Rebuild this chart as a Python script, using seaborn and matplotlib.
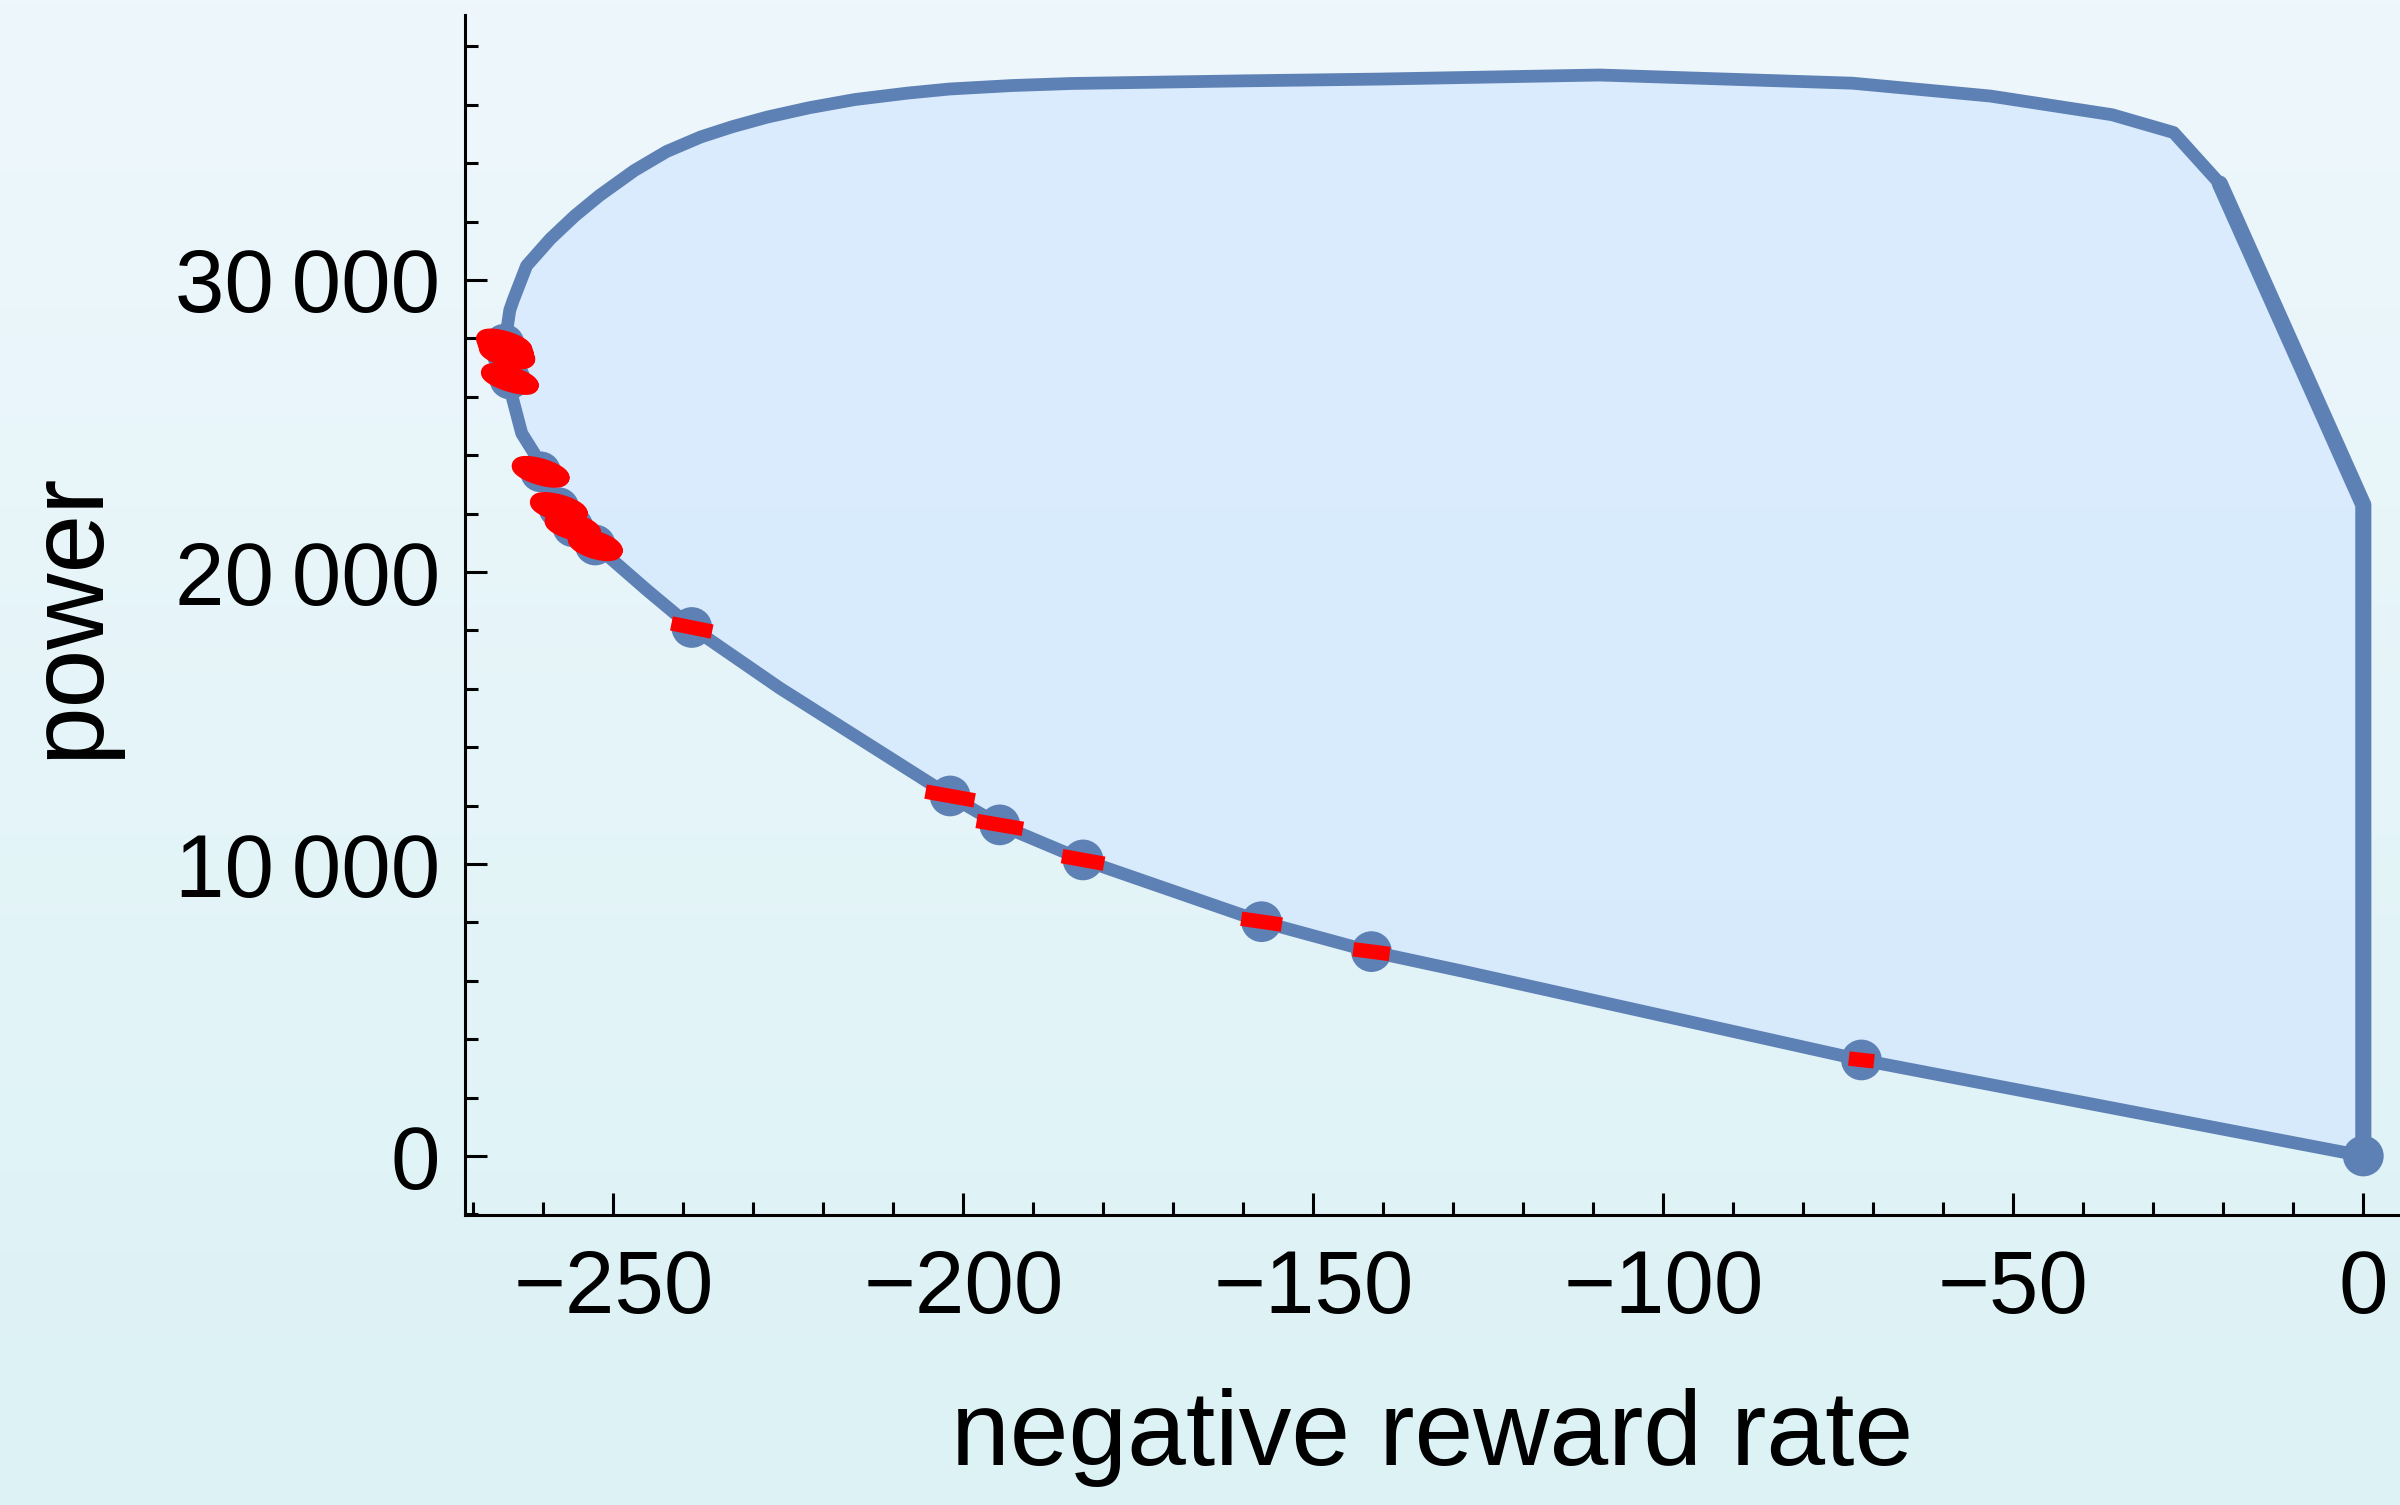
import numpy as np
import pandas as pd
import matplotlib
matplotlib.use("Agg")
import matplotlib.pyplot as plt
from matplotlib.ticker import MultipleLocator, FuncFormatter
from matplotlib.colors import LinearSegmentedColormap
import seaborn as sns

# ---------------- data ----------------
# boundary of the achievable region (upper curve, right edge, lower curve)
bound_x = [-265.7, -265.3, -264.8, -264.3, -262.4, -259.0, -255.5, -252.0, -247.0,
           -242.4, -237.5, -233.0, -228.0, -222.0, -215.5, -208.0, -202.0, -193.0,
           -184.5, -160.0, -140.8, -109.1, -73.0, -53.3, -35.9, -27.1, -20.5, 0.0, 0.0,
           -71.7, -128.5, -141.7, -157.4, -182.9, -194.8, -201.9, -226.2, -238.8,
           -245.2, -252.6, -255.8, -257.8, -260.4, -261.3, -263.1, -264.6, -264.8,
           -265.3, -265.7]
bound_y = [27700, 28170, 28970, 29315, 30490, 31410, 32200, 32890, 33750,
           34400, 34900, 35250, 35580, 35900, 36180, 36400, 36540, 36660,
           36730, 36820, 36880, 37020, 36740, 36300, 35660, 35050, 33300, 22300, 0,
           3290, 6320, 7000, 8025, 10140, 11340, 12330, 16020, 18100,
           19380, 20925, 21550, 22200, 23430, 24060, 24750, 26120, 26610,
           27200, 27700]

# right-hand edge (drawn heavier)
edge_x = [-20.5, 0.0, 0.0]
edge_y = [33300, 22300, 0]

# red uncertainty markers: centre, half major axis (x, y), half minor (y)
mark_x = [-265.6, -265.4, -265.2, -264.8, -260.4, -257.8, -255.8, -252.6,
          -238.8, -201.9, -194.8, -182.9, -157.4, -141.7, -71.7]
mark_y = [27800, 27650, 27480, 26610, 23430, 22200, 21550, 20925,
          18100, 12330, 11340, 10140, 8025, 7000, 3290]
mark_hx = [3.0, 3.0, 3.0, 3.1, 3.1, 3.1, 3.0, 2.9,
           2.9, 3.5, 3.3, 3.0, 2.9, 2.6, 1.8]
mark_hy = [-190, -190, -190, -220, -200, -190, -190, -190,
           -140, -150, -135, -130, -100, -80, -48]
mark_b = [220, 220, 220, 200, 220, 220, 220, 240,
          0, 0, 0, 0, 0, 0, 0]

# blue points (marker centres plus the origin)
dot_x = mark_x + [0.0]
dot_y = mark_y + [0]

x_label = "negative reward rate"
y_label = "power"

# ---------------- style ----------------
line_color = "#5E81B5"
fill_color = "#d4e8fe"
bg_top = "#eef7fc"
bg_bottom = "#dcf2f5"

sns.set_style("ticks")
plt.rcParams["font.family"] = ["Liberation Sans", "DejaVu Sans"]

fig = plt.figure(figsize=(12, 7.525), dpi=200)

# background gradient
bg = fig.add_axes([0, 0, 1, 1], zorder=0)
grad = np.linspace(0, 1, 256).reshape(-1, 1)
cmap = LinearSegmentedColormap.from_list("bg", [bg_top, bg_bottom])
bg.imshow(grad, aspect="auto", cmap=cmap, extent=[0, 1, 0, 1], origin="upper")
bg.set_axis_off()

ax = fig.add_axes([0.19375, 0.19269, 0.80625, 0.79734], zorder=1)
ax.patch.set_alpha(0)

# region fill
ax.fill(bound_x, bound_y, color=fill_color, alpha=0.75, lw=0, zorder=1)

# boundary
df_b = pd.DataFrame({"x": bound_x, "y": bound_y})
sns.lineplot(data=df_b, x="x", y="y", sort=False, estimator=None,
             color=line_color, linewidth=4.6, ax=ax, zorder=2)
df_e = pd.DataFrame({"x": edge_x, "y": edge_y})
sns.lineplot(data=df_e, x="x", y="y", sort=False, estimator=None,
             color=line_color, linewidth=5.8, ax=ax, zorder=2)
for ln in ax.lines:
    ln.set_solid_joinstyle("round")
    ln.set_solid_capstyle("round")

# points
df_d = pd.DataFrame({"x": dot_x, "y": dot_y})
sns.scatterplot(data=df_d, x="x", y="y", s=215, color=line_color,
                edgecolor="none", linewidth=0, ax=ax, zorder=3, clip_on=False)

# red markers
t = np.linspace(0, 2 * np.pi, 90)
for cx, cy, hx, hy, b in zip(mark_x, mark_y, mark_hx, mark_hy, mark_b):
    if b == 0:
        ax.plot([cx - hx, cx + hx], [cy - hy, cy + hy], color="red", lw=5.2,
                solid_capstyle="butt", zorder=4)
    else:
        ex = cx + hx * np.cos(t)
        ey = cy + hy * np.cos(t) + b * np.sin(t)
        ax.plot(ex, ey, color="red", lw=5.2, solid_joinstyle="round", zorder=4)

# axes
ax.set_xlim(-271.2, 5.24)
ax.set_ylim(-2020, 39075)
ax.xaxis.set_major_locator(MultipleLocator(50))
ax.xaxis.set_minor_locator(MultipleLocator(10))
ax.yaxis.set_major_locator(MultipleLocator(10000))
ax.yaxis.set_minor_locator(MultipleLocator(2000))
ax.yaxis.set_major_formatter(FuncFormatter(
    lambda v, p: f"{int(round(v)):,}".replace(",", "\u2009")))

ax.tick_params(axis="both", which="major", direction="in", length=8,
               width=1.1, labelsize=32, color="black", labelcolor="black")
ax.tick_params(axis="both", which="minor", direction="in", length=4.7,
               width=1.1, color="black")
ax.tick_params(axis="x", which="major", pad=12)
ax.tick_params(axis="y", which="major", pad=9)

for s in ["top", "right"]:
    ax.spines[s].set_visible(False)
for s in ["left", "bottom"]:
    ax.spines[s].set_linewidth(1.1)
    ax.spines[s].set_color("black")

ax.set_xlabel(x_label, fontsize=38, labelpad=20, color="black")
ax.set_ylabel(y_label, fontsize=38, labelpad=20, color="black")

fig.savefig("out.png", dpi=200)
